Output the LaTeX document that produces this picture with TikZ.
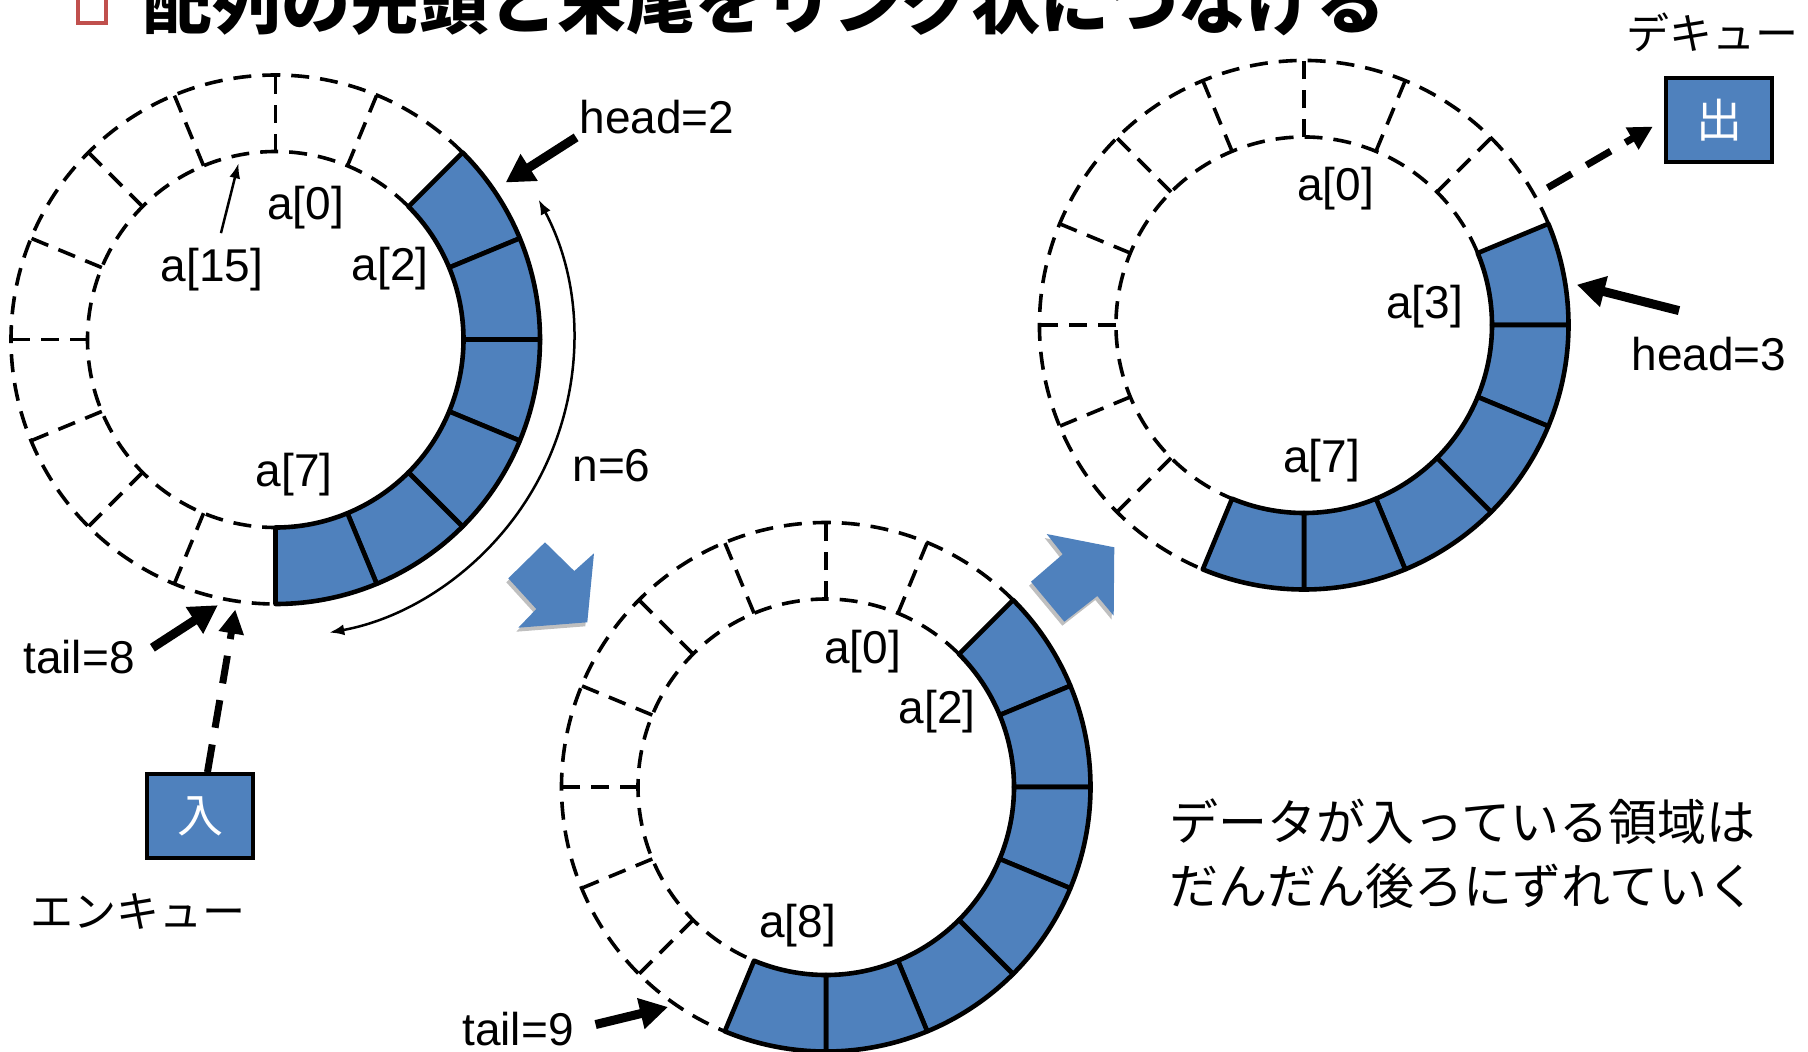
\documentclass[tikz,border=0pt]{standalone}
\usepackage{fontspec}
\setmainfont{Liberation Sans}
\newfontfamily\jp{Noto Sans CJK JP}
\usetikzlibrary{arrows.meta, positioning}
\definecolor{qblue}{HTML}{4F81BD}
\definecolor{qred}{HTML}{C0504D}
\newcommand{\ringout}{264.5pt}
\newcommand{\ringin}{188pt}

\begin{document}
\begin{tikzpicture}[x=1pt,y=1pt,font=\fontsize{46}{52}\selectfont,inner sep=2pt,line width=3pt]

	\tikzset{ring/.style={dash pattern=on 18pt off 11pt, line width=3.6pt}}
	\tikzset{cell/.style={draw, fill=qblue, line width=4.6pt, line join=round}}
	\tikzset{qbox/.style={draw, fill=qblue, line width=3.8pt,
			minimum width=106pt, minimum height=84pt,
			text=white, font=\jp\fontsize{46}{50}\selectfont}}
	\tikzset{jp text/.style={font=\jp\fontsize{43}{48}\selectfont}}
	\tikzset{fat arrow/.style={line width=9pt, -{Triangle[length=28pt,width=30pt]}}}
	\tikzset{dash arrow/.style={line width=7pt, dash pattern=on 28pt off 17pt,
			-{Triangle[length=24pt,width=24pt]}}}
	\tikzset{thin arrow/.style={line width=2.5pt, -{Latex[length=15pt,width=11pt]}}}
	\tikzset{block arrow/.style={fill=qblue}}
	\tikzset{block shadow/.style={fill=black, opacity=0.25}}

	\useasboundingbox (0,0) rectangle (1808,-1052);
	\clip (0,0) rectangle (1808,-1052);

	\node[draw=qred, line width=3.5pt, minimum size=28pt] (bullet) at (92,-9) {};
	\node[anchor=base west, font=\jp\bfseries\fontsize{69}{80}\selectfont] (title) at (140,-28) {配列の先頭と末尾をリング状につなげる};

	\coordinate (R1) at (275.5,-339.5);
	\coordinate (R2) at (826,-787);
	\coordinate (R3) at (1304,-325);

	\foreach \c/\s/\e in {R1/2/7, R2/2/8, R3/3/8} {
		\pgfmathsetmacro{\ta}{90-22.5*\s}
		\pgfmathsetmacro{\tb}{450-22.5*(\e+1)}
		\pgfmathtruncatemacro{\ja}{\e+2}
		\pgfmathtruncatemacro{\jb}{\s+15}
		\draw[ring] ([shift={(\ta:\ringout)}]\c) arc[start angle=\ta, end angle=\tb, radius=\ringout];
		\draw[ring] ([shift={(\ta:\ringin)}]\c) arc[start angle=\ta, end angle=\tb, radius=\ringin];
		\foreach \j in {\ja,...,\jb}
			\draw[ring] ([shift={(90-22.5*\j:\ringin)}]\c) -- ([shift={(90-22.5*\j:\ringout)}]\c);
		\foreach \k [evaluate=\k as \ca using 90-22.5*\k,
				evaluate=\k as \cb using 67.5-22.5*\k] in {\s,...,\e}
			\draw[cell] ([shift={(\ca:\ringin)}]\c) -- ([shift={(\ca:\ringout)}]\c)
				arc[start angle=\ca, end angle=\cb, radius=\ringout]
				-- ([shift={(\cb:\ringin)}]\c)
				arc[start angle=\cb, end angle=\ca, radius=\ringin] -- cycle;
	}

	\node (r1a0) at ([shift={(30,132)}]R1) {a[0]};
	\node (r1a15) at ([shift={(-63.7,69.8)}]R1) {a[15]};
	\node (r1a2) at ([shift={(114.7,70.9)}]R1) {a[2]};
	\node (r1a7) at ([shift={(18.5,-135)}]R1) {a[7]};
	\node (head2) at (657,-117) {head=2};
	\node (n6) at (611.5,-465.5) {n=6};
	\node (tail8) at (79,-657) {tail=8};
	\node[qbox] (inbox) at (200,-816) {入};
	\node[jp text, below=30pt of inbox, xshift=-62pt] (enq) {エンキュー};

	\node (r2a0) at ([shift={(36.5,135.6)}]R2) {a[0]};
	\node (r2a2) at ([shift={(111,75.8)}]R2) {a[2]};
	\node (r2a8) at ([shift={(-28.5,-138.9)}]R2) {a[8]};
	\node (tail9) at (518,-1029) {tail=9};

	\node (r3a0) at ([shift={(31.6,136)}]R3) {a[0]};
	\node (r3a3) at ([shift={(120.5,18.6)}]R3) {a[3]};
	\node (r3a7) at ([shift={(17.5,-135.7)}]R3) {a[7]};
	\node (head3) at (1709,-354) {head=3};
	\node[qbox] (outbox) at (1719,-120) {出};
	\node[jp text, above=21pt of outbox, xshift=-7pt] (deq) {デキュー};

	\node[anchor=west, align=left, font=\jp\fontsize{49}{64}\selectfont] (note) at (1166,-854)
		{データが入っている領域は\\だんだん後ろにずれていく};

	\coordinate (h2tip) at (505.6,-182.5);
	\coordinate (t8tip) at (217.9,-605.2);
	\coordinate (intip) at (235.3,-609.5);
	\coordinate (a15tip) at (238.5,-163.3);
	\coordinate (t9tip) at (668,-1007);
	\coordinate (h3tip) at (1576.8,-284.7);
	\coordinate (deqsrc) at (1547.6,-187.8);

	\draw[fat arrow] (head2.south west) -- (h2tip);
	\draw[fat arrow, shorten <=17pt] (tail8.east) -- (t8tip);
	\draw[fat arrow, shorten <=19pt] (tail9.east) -- (t9tip);
	\draw[fat arrow] ([shift={(-30,23)}]head3.north) -- (h3tip);
	\draw[dash arrow] (inbox) -- (intip);
	\draw[dash arrow, shorten >=13pt] (deqsrc) -- (outbox.west);
	\draw[thin arrow, shorten <=12pt] (r1a15) -- (a15tip);
	\draw[thin arrow, {Latex[length=15pt,width=11pt]}-{Latex[length=15pt,width=11pt]}]
		([shift={(28:298pt)}]R1) arc[start angle=28, end angle=-79.6, radius=298pt];

	\fill[block shadow, shift={(-2,-4)}] (545,-542.3) -- (574.3,-571) -- (594,-553.3) -- (587.3,-622.3)
		-- (518.3,-627.7) -- (536.3,-609) -- (508.3,-578.3) -- cycle;
	\fill[block arrow] (545,-542.3) -- (574.3,-571) -- (594,-553.3) -- (587.3,-622.3)
		-- (518.3,-627.7) -- (536.3,-609) -- (508.3,-578.3) -- cycle;
	\fill[block shadow, shift={(-2,-4)}] (1046.7,-534) -- (1114.3,-547.3) -- (1113.7,-615.7) -- (1097.3,-596)
		-- (1064.3,-621.7) -- (1031,-581.7) -- (1062.7,-554.3) -- cycle;
	\fill[block arrow] (1046.7,-534) -- (1114.3,-547.3) -- (1113.7,-615.7) -- (1097.3,-596)
		-- (1064.3,-621.7) -- (1031,-581.7) -- (1062.7,-554.3) -- cycle;
\end{tikzpicture}
\end{document}
